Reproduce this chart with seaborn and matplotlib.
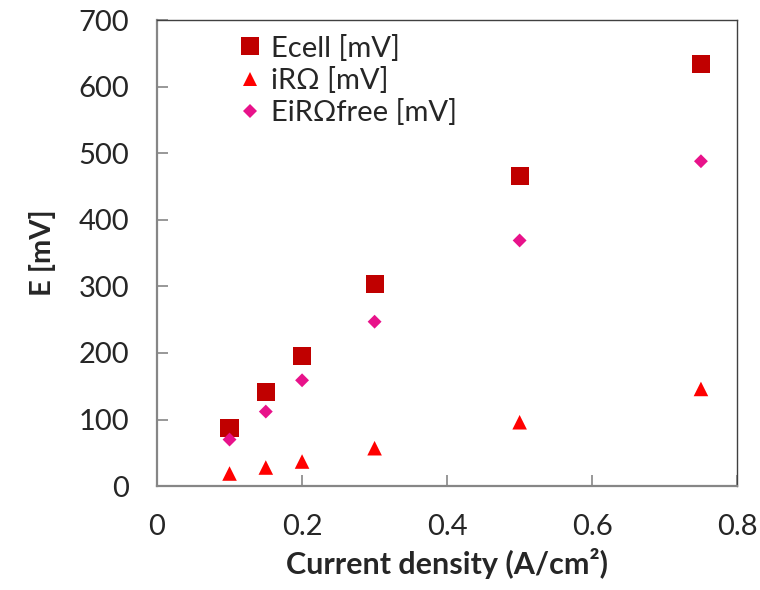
import numpy as np
import pandas as pd
import seaborn as sns
import matplotlib.pyplot as plt

# Dados
current_density = [0.1, 0.15, 0.2, 0.3, 0.5, 0.75]
ecell = [87, 141, 195, 304, 466, 634]
ir_ohm = [19, 28, 37, 57, 96, 146]
eir_free = [70, 112, 159, 247, 369, 488]

df = pd.DataFrame({
    'x': current_density * 3,
    'E': ecell + ir_ohm + eir_free,
    'serie': ['Ecell [mV]'] * 6 + ['iRΩ [mV]'] * 6 + ['EiRΩfree [mV]'] * 6,
})

sns.set_style('white')
plt.rcParams['font.family'] = ['Lato', 'DejaVu Sans']

fig = plt.figure(figsize=(7.6, 5.9), dpi=100)
ax = fig.add_axes([0.2066, 0.176, 0.7634, 0.79])

sns.scatterplot(
    data=df, x='x', y='E', hue='serie', style='serie', size='serie',
    palette={'Ecell [mV]': '#C00000', 'iRΩ [mV]': '#FF0000', 'EiRΩfree [mV]': '#E8128A'},
    markers={'Ecell [mV]': 's', 'iRΩ [mV]': '^', 'EiRΩfree [mV]': 'D'},
    sizes={'Ecell [mV]': 170, 'iRΩ [mV]': 110, 'EiRΩfree [mV]': 50},
    linewidth=0, ax=ax,
)

ax.set_xlim(0, 0.8)
ax.set_ylim(0, 700)
ax.set_xticks(np.arange(0, 0.81, 0.2))
ax.set_xticklabels(['0', '0.2', '0.4', '0.6', '0.8'])
ax.set_yticks(range(0, 701, 100))

# moldura estilo Excel
for s in ['top', 'right']:
    ax.spines[s].set_color('#404040')
    ax.spines[s].set_linewidth(1.0)
for s in ['left', 'bottom']:
    ax.spines[s].set_color('#868686')
    ax.spines[s].set_linewidth(1.6)

ax.tick_params(axis='both', direction='in', length=8, width=1.2, color='#868686',
               labelsize=21, bottom=True, left=True, top=False, right=False)
ax.tick_params(axis='x', pad=20)
ax.tick_params(axis='y', pad=20)

ax.set_xlabel('Current density (A/cm²)', fontsize=22, fontweight='bold', labelpad=6)
ax.set_ylabel('E [mV]', fontsize=21, fontweight='bold', labelpad=16)

leg = ax.legend(loc='upper left', bbox_to_anchor=(0.08, 1.025), frameon=False,
                fontsize=21, handletextpad=0.0, handlelength=1.4,
                labelspacing=0.18, markerscale=1.0)

fig.savefig('out.png', dpi=100)
